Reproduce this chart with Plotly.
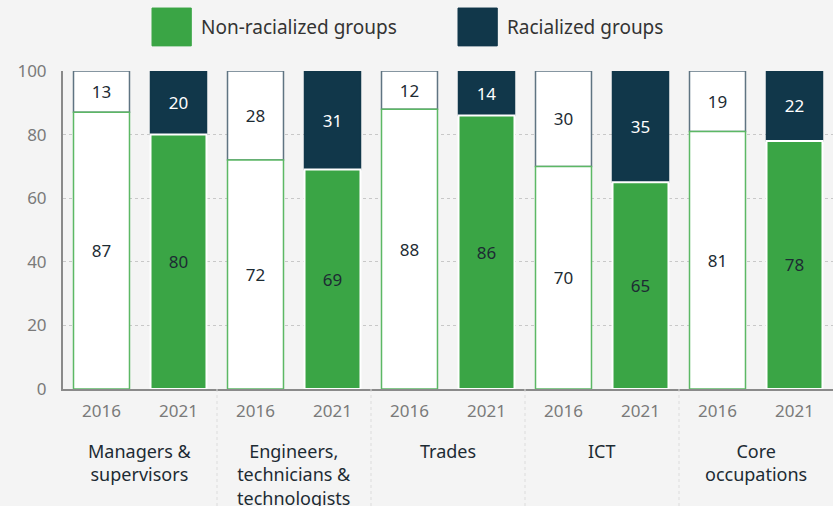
import plotly.graph_objects as go

# data
occupations = ["Managers &<br>supervisors", "Engineers,<br>technicians &<br>technologists",
               "Trades", "ICT", "Core<br>occupations"]
years = ["2016", "2021"]
non_racialized = [87, 80, 72, 69, 88, 86, 70, 65, 81, 78]
racialized = [13, 20, 28, 31, 12, 14, 30, 35, 19, 22]

GREEN = '#3aa545'
NAVY = '#11374a'
BG = '#f4f4f4'
FONT = 'Noto Sans'

x_pos = list(range(len(non_racialized)))
tick_text = years * len(occupations)
is_2021 = [i % 2 == 1 for i in x_pos]

fig = go.Figure()

# racialized segment sits on top of the non-racialized one
fig.add_trace(go.Bar(
    x=x_pos,
    y=racialized,
    base=non_racialized,
    name='Racialized groups',
    width=0.727,
    text=racialized,
    textposition='inside',
    insidetextanchor='middle',
    textangle=0,
    textfont=dict(size=17, color=['white' if n else '#1d2b33' for n in is_2021], family=FONT),
    marker=dict(
        color=[NAVY if n else 'white' for n in is_2021],
        line=dict(color=[NAVY if n else '#5f7482' for n in is_2021], width=1.5)
    ),
    hoverinfo='skip'
))

fig.add_trace(go.Bar(
    x=x_pos,
    y=non_racialized,
    name='Non-racialized groups',
    width=0.727,
    text=non_racialized,
    textposition='inside',
    insidetextanchor='middle',
    textangle=0,
    textfont=dict(size=17, color='#1d2b33', family=FONT),
    marker=dict(
        color=[GREEN if n else 'white' for n in is_2021],
        line=dict(color=['white' if n else '#5cb865' for n in is_2021],
                  width=[2 if n else 1.5 for n in is_2021])
    ),
    hoverinfo='skip'
))

fig.update_layout(
    barmode='overlay',
    width=833,
    height=506,
    paper_bgcolor=BG,
    plot_bgcolor=BG,
    showlegend=False,
    margin=dict(l=63, r=0, t=71, b=117),
    font=dict(family=FONT, color='#777777'),
    xaxis=dict(
        range=[-0.5, 9.5],
        tickmode='array',
        tickvals=x_pos,
        ticktext=tick_text,
        tickfont=dict(size=17, color='#7a7a7a'),
        showgrid=False,
        showline=True,
        linecolor='#8a8a8a',
        linewidth=2,
        ticks='',
        ticklabelstandoff=6,
        zeroline=False
    ),
    yaxis=dict(
        range=[0, 100],
        tickvals=[0, 20, 40, 60, 80, 100],
        tickfont=dict(size=17, color='#7a7a7a'),
        showgrid=True,
        gridcolor='#c8c8c8',
        griddash='dot',
        gridwidth=1,
        showline=True,
        linecolor='#8a8a8a',
        linewidth=2,
        ticks='',
        ticklabelstandoff=11,
        zeroline=False
    )
)

# category labels below the year ticks
for i, occ in enumerate(occupations):
    fig.add_annotation(
        x=2 * i + 0.5, y=-0.152, xref='x', yref='paper',
        text=occ, showarrow=False, xanchor='center', yanchor='top',
        font=dict(size=18, color='#1d2b33', family=FONT)
    )

# dotted dividers between categories
for i in range(1, len(occupations)):
    fig.add_shape(
        type='line', xref='x', yref='paper',
        x0=2 * i - 0.5, x1=2 * i - 0.5, y0=0, y1=-0.37,
        line=dict(color='#dcdcdc', width=1, dash='dot')
    )

# custom legend with large swatches
legend_items = [('Non-racialized groups', GREEN, 0.1156), ('Racialized groups', NAVY, 0.5130)]
for label, color, x0 in legend_items:
    fig.add_shape(
        type='rect', xref='paper', yref='paper',
        x0=x0, x1=x0 + 0.051, y0=1.079, y1=1.198,
        fillcolor=color, line=dict(color=color, width=1)
    )
    fig.add_annotation(
        x=x0 + 0.061, y=1.138, xref='paper', yref='paper',
        text=label, showarrow=False, xanchor='left', yanchor='middle',
        font=dict(size=19, color='#333333', family=FONT)
    )

fig.write_html("out.html", config={'displayModeBar': False},
               post_script="document.body.style.margin='0';")
